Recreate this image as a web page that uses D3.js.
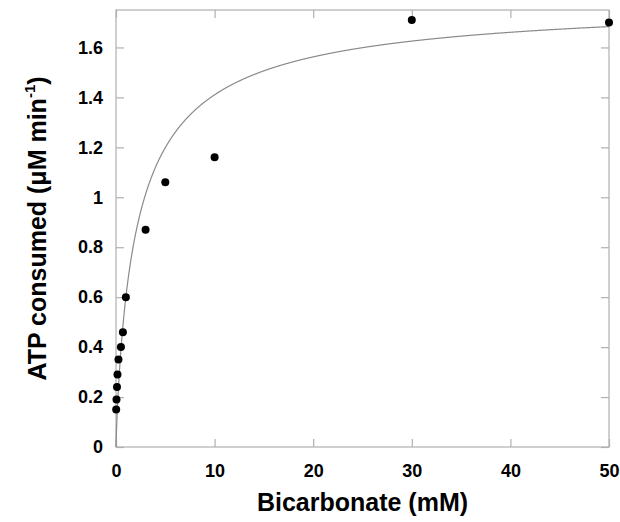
<!DOCTYPE html>
<html>
<head>
<meta charset="utf-8">
<script src="https://cdn.jsdelivr.net/npm/d3@7"></script>
<style>
  body { margin: 0; background: #fff; }
  svg text { font-family: "Liberation Sans", Arial, sans-serif; font-weight: bold; }
</style>
</head>
<body>
<svg id="chart" width="620" height="522"></svg>
<script>
// measured points
const bicarb = [0.02, 0.05, 0.1, 0.15, 0.25, 0.5, 0.7, 1, 3, 5, 10, 30, 50];
const atpRate = [0.15, 0.19, 0.24, 0.29, 0.35, 0.40, 0.46, 0.60, 0.87, 1.06, 1.16, 1.71, 1.70];

// fitted curve (Hill form), parameters
const vmax = 1.80;
const kHalf = 2.24;
const hill = 0.86;

const xTicks = [0, 10, 20, 30, 40, 50];
const yTicks = [0, 0.2, 0.4, 0.6, 0.8, 1, 1.2, 1.4, 1.6];

const svg = d3.select('#chart');
const plotL = 116, plotR = 609, plotT = 10, plotB = 447;
const frameColor = '#b0b0b0';

const x = d3.scaleLinear().domain([0, 50]).range([plotL, plotR]);
const y = d3.scaleLinear().domain([0, 1.75]).range([plotB, plotT]);

// frame
svg.append('rect')
  .attr('x', plotL)
  .attr('y', plotT)
  .attr('width', plotR - plotL)
  .attr('height', plotB - plotT)
  .attr('fill', 'none')
  .attr('stroke', frameColor)
  .attr('stroke-width', 1.2);

const styleAxis = (g) => {
  g.select('.domain').remove();
  g.selectAll('.tick line').attr('stroke', frameColor).attr('stroke-width', 1.2);
  g.selectAll('.tick text').attr('fill', '#000').attr('font-size', 18)
    .attr('font-family', '"Liberation Sans", Arial, sans-serif').attr('font-weight', 'bold');
};

const fmt = (d) => String(+d.toFixed(1));

svg.append('g')
  .attr('transform', `translate(0,${plotB})`)
  .call(d3.axisBottom(x).tickValues(xTicks).tickSizeInner(-8).tickSizeOuter(0).tickPadding(17).tickFormat(fmt))
  .call(styleAxis);

svg.append('g')
  .attr('transform', `translate(${plotL},0)`)
  .call(d3.axisLeft(y).tickValues(yTicks).tickSizeInner(-8).tickSizeOuter(0).tickPadding(13).tickFormat(fmt))
  .call(styleAxis);

svg.append('g')
  .attr('transform', `translate(0,${plotT})`)
  .call(d3.axisTop(x).tickValues(xTicks).tickSizeInner(-8).tickSizeOuter(0).tickFormat(''))
  .call(styleAxis);

svg.append('g')
  .attr('transform', `translate(${plotR},0)`)
  .call(d3.axisRight(y).tickValues(yTicks).tickSizeInner(-8).tickSizeOuter(0).tickFormat(''))
  .call(styleAxis);

// fit line
const fit = (s) => vmax * Math.pow(s, hill) / (Math.pow(kHalf, hill) + Math.pow(s, hill));
const curveX = d3.range(0, 50.001, 0.02);
svg.append('path')
  .datum(curveX)
  .attr('fill', 'none')
  .attr('stroke', '#8a8a8a')
  .attr('stroke-width', 1.2)
  .attr('d', d3.line().x(d => x(d)).y(d => y(fit(d))));

// points
svg.append('g')
  .selectAll('circle')
  .data(bicarb)
  .join('circle')
  .attr('cx', d => x(d))
  .attr('cy', (d, i) => y(atpRate[i]))
  .attr('r', 4)
  .attr('fill', '#000');

// axis titles
svg.append('text')
  .attr('x', (plotL + plotR) / 2)
  .attr('y', 511)
  .attr('text-anchor', 'middle')
  .attr('font-size', 25)
  .text('Bicarbonate (mM)');

const yTitle = svg.append('text')
  .attr('transform', `translate(46,${(plotT + plotB) / 2}) rotate(-90)`)
  .attr('text-anchor', 'middle')
  .attr('font-size', 25);
yTitle.append('tspan').text('ATP consumed (μM min');
yTitle.append('tspan').attr('font-size', 15).attr('dy', -11).text('-1');
yTitle.append('tspan').attr('dy', 11).text(')');
</script>
</body>
</html>
